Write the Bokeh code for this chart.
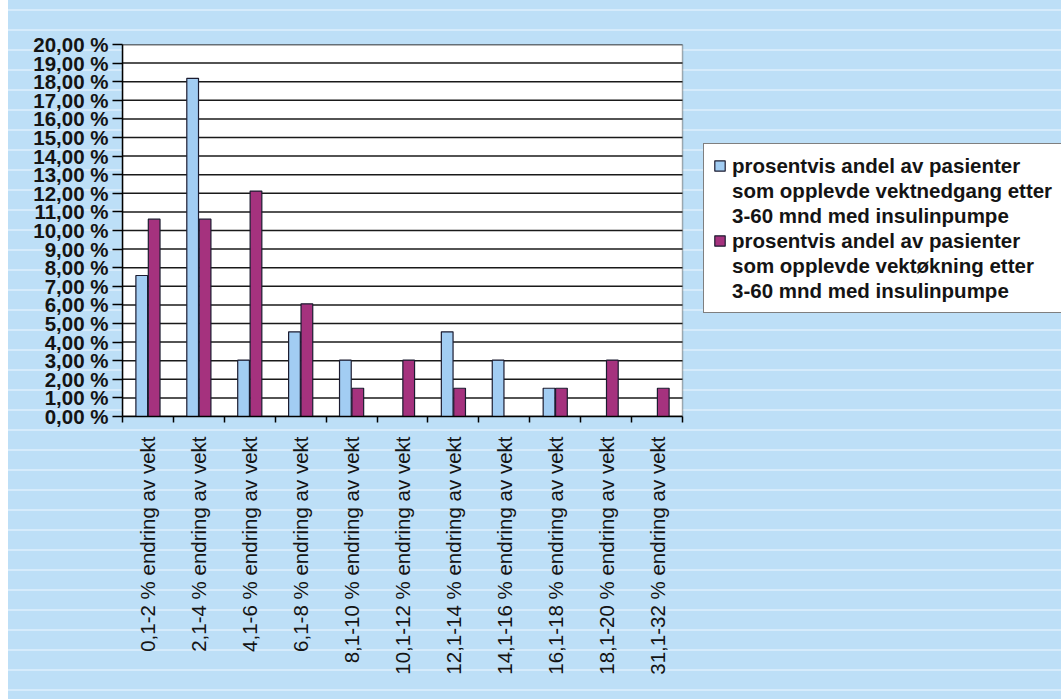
import math
from bokeh.plotting import figure
from bokeh.models import (ColumnDataSource, FixedTicker, Range1d, Legend, LegendItem, BoxAnnotation)
from bokeh.transform import dodge
from bokeh.embed import file_html
from bokeh.resources import INLINE

categories = ["0,1-2 % endring av vekt", "2,1-4 % endring av vekt", "4,1-6 % endring av vekt",
              "6,1-8 % endring av vekt", "8,1-10 % endring av vekt", "10,1-12 % endring av vekt",
              "12,1-14 % endring av vekt", "14,1-16 % endring av vekt", "16,1-18 % endring av vekt",
              "18,1-20 % endring av vekt", "31,1-32 % endring av vekt"]
vektnedgang = [7.58, 18.18, 3.03, 4.55, 3.03, 0.0, 4.55, 3.03, 1.52, 0.0, 0.0]
vektokning = [10.61, 10.61, 12.12, 6.06, 1.52, 3.03, 1.52, 0.0, 1.52, 3.03, 1.52]
y_ticks = list(range(0, 21))
label_nedgang = ["prosentvis andel av pasienter", "som opplevde vektnedgang etter", "3-60 mnd med insulinpumpe"]
label_okning = ["prosentvis andel av pasienter", "som opplevde vektøkning etter", "3-60 mnd med insulinpumpe"]

N = len(categories)
centers = [i + 0.5 for i in range(N)]
bounds = list(range(N + 1))
YMAX = max(y_ticks)

src = ColumnDataSource(dict(x=centers, ned=vektnedgang, ok=vektokning))
grid_src = ColumnDataSource(dict(y=y_ticks, x0=[0] * len(y_ticks), x1=[N] * len(y_ticks)))

FONT = "Liberation Sans"
BLUE = "#a2cdf3"
PURPLE = "#a5327e"

# the frame spans to the right edge of the page; the plot area occupies its left part
LEFT, TOP, BOTTOM = 122, 44, 283
PLOT_W, FRAME_W = 560, 1061 - 122

p = figure(width=1061, height=699, output_backend="svg", toolbar_location=None,
           x_range=Range1d(0, N * FRAME_W / PLOT_W), y_range=Range1d(0, YMAX),
           min_border_left=LEFT, min_border_right=0, min_border_top=TOP, min_border_bottom=BOTTOM)
p.background_fill_alpha = 0
p.border_fill_alpha = 0
p.outline_line_color = None
p.styles = {"background": "linear-gradient(to right, #ffffff 0px, #ffffff 8px, transparent 8px), "
                          "repeating-linear-gradient(to bottom, #bddff7 0px, #bddff7 9px, #d6ebfb 9px, "
                          "#d6ebfb 11px, #bddff7 11px, #bddff7 20px)"}

plot_area = BoxAnnotation(left=0, right=N, bottom=0, top=YMAX, fill_color="white", fill_alpha=1,
                          line_color="black", line_width=1.5, level="image", editable=False)
p.add_layout(plot_area)

p.xgrid.visible = False
p.ygrid.visible = False
p.segment(x0="x0", x1="x1", y0="y", y1="y", source=grid_src, line_color="#1a1a1a",
          line_width=1.5, level="underlay")

r1 = p.vbar(x=dodge("x", -0.122, range=p.x_range), top="ned", width=0.23, source=src,
            fill_color=BLUE, line_color="#1c1c30", line_width=1.2)
r2 = p.vbar(x=dodge("x", 0.122, range=p.x_range), top="ok", width=0.23, source=src,
            fill_color=PURPLE, line_color="#1c1c30", line_width=1.2)
blank = p.scatter(x=[], y=[], fill_alpha=0, line_alpha=0)

xa = p.xaxis[0]
xa.bounds = (0, N)
xa.ticker = FixedTicker(ticks=centers, minor_ticks=bounds)
xa.major_label_overrides = {c: lab for c, lab in zip(centers, categories)}
xa.major_tick_out = 0
xa.major_tick_in = 0
xa.minor_tick_out = 6
xa.minor_tick_in = 0
xa.minor_tick_line_color = "black"
xa.minor_tick_line_width = 1.5
xa.axis_line_color = "black"
xa.axis_line_width = 1.5
xa.major_label_orientation = math.pi / 2
xa.major_label_standoff = 14
xa.major_label_text_font = FONT
xa.major_label_text_font_size = "20.5px"
xa.major_label_text_color = "#141414"

ya = p.yaxis[0]
ya.ticker = FixedTicker(ticks=y_ticks, minor_ticks=[])
ya.major_label_overrides = {t: f"{t},00 %" for t in y_ticks}
ya.major_tick_out = 10
ya.major_tick_in = 0
ya.major_tick_line_color = "black"
ya.major_tick_line_width = 1.5
ya.axis_line_color = "black"
ya.axis_line_width = 1.5
ya.major_label_standoff = 4
ya.major_label_text_font = FONT
ya.major_label_text_font_size = "20.5px"
ya.major_label_text_font_style = "bold"
ya.major_label_text_color = "#141414"

items = [LegendItem(label=label_nedgang[0], renderers=[r1]),
         LegendItem(label=label_nedgang[1], renderers=[blank]),
         LegendItem(label=label_nedgang[2], renderers=[blank]),
         LegendItem(label=label_okning[0], renderers=[r2]),
         LegendItem(label=label_okning[1], renderers=[blank]),
         LegendItem(label=label_okning[2], renderers=[blank])]
legend = Legend(items=items, location=(581, 103), margin=0, padding=9, spacing=0,
                glyph_width=13, glyph_height=13, label_height=25, label_standoff=6,
                label_text_font=FONT, label_text_font_size="20.5px", label_text_font_style="bold",
                label_text_color="#141414", border_line_color="black", border_line_width=1.5,
                background_fill_color="white", background_fill_alpha=1)
p.add_layout(legend)

open("out.html", "w").write(file_html(p, INLINE))
